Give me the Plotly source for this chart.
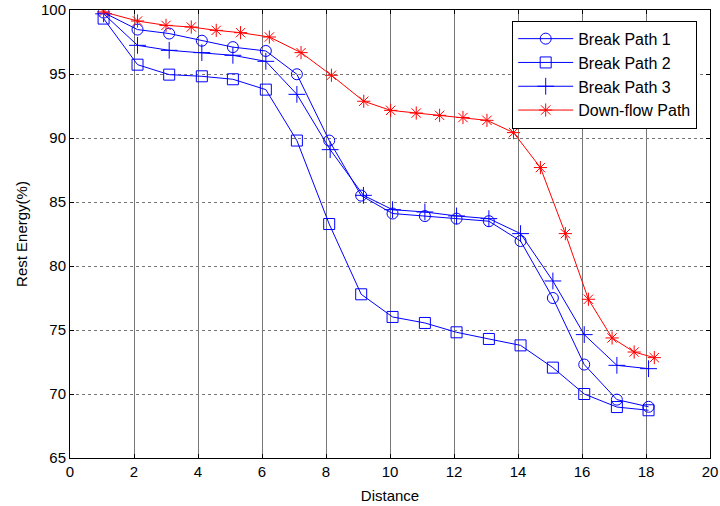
import plotly.graph_objects as go

# Break Path 1 (circles)
bp1_x = [1.05, 2.11, 3.1, 4.12, 5.09, 6.12, 7.09, 8.1, 9.1, 10.08, 11.09, 12.08, 13.09, 14.08, 15.09, 16.07, 17.09, 18.08]
bp1_y = [99.8, 98.47, 98.16, 97.6, 97.1, 96.8, 94.98, 89.8, 85.5, 84.1, 83.9, 83.7, 83.5, 81.95, 77.5, 72.3, 69.56, 69.0]

# Break Path 2 (squares)
bp2_x = [1.05, 2.11, 3.1, 4.12, 5.09, 6.12, 7.09, 8.1, 9.1, 10.08, 11.09, 12.08, 13.09, 14.08, 15.09, 16.07, 17.09, 18.08]
bp2_y = [99.33, 95.73, 94.95, 94.82, 94.59, 93.78, 89.8, 83.28, 77.79, 76.02, 75.55, 74.82, 74.3, 73.8, 72.06, 70.0, 68.98, 68.73]

# Break Path 3 (plus)
bp3_x = [1.05, 2.11, 3.1, 4.12, 5.09, 6.12, 7.09, 8.13, 9.17, 10.08, 11.09, 12.08, 13.09, 14.08, 15.09, 16.07, 17.09, 18.08]
bp3_y = [99.7, 97.24, 96.85, 96.67, 96.46, 95.99, 93.41, 89.09, 85.52, 84.4, 84.22, 83.91, 83.7, 82.53, 78.83, 74.64, 72.24, 71.98]

# Down-flow Path (asterisks)
df_x = [1.05, 2.11, 3.0, 3.79, 4.57, 5.33, 6.23, 7.22, 8.17, 9.18, 10.02, 10.82, 11.55, 12.28, 13.03, 13.86, 14.7, 15.48, 16.2, 16.94, 17.63, 18.26]
df_y = [99.85, 99.14, 98.8, 98.67, 98.41, 98.23, 97.89, 96.67, 94.9, 92.87, 92.16, 91.95, 91.77, 91.6, 91.38, 90.42, 87.69, 82.53, 77.4, 74.38, 73.28, 72.84]

x_ticks = list(range(0, 21, 2))
y_ticks = list(range(65, 101, 5))

blue = "#0000ff"
red = "#ff0000"

fig = go.Figure()
fig.add_trace(go.Scatter(x=bp1_x, y=bp1_y, mode="lines+markers", name="Break Path 1",
                         line=dict(color=blue, width=1),
                         marker=dict(symbol="circle-open", size=11, color=blue, line=dict(width=1, color=blue))))
fig.add_trace(go.Scatter(x=bp2_x, y=bp2_y, mode="lines+markers", name="Break Path 2",
                         line=dict(color=blue, width=1),
                         marker=dict(symbol="square-open", size=11, color=blue, line=dict(width=1, color=blue))))
fig.add_trace(go.Scatter(x=bp3_x, y=bp3_y, mode="lines+markers", name="Break Path 3",
                         line=dict(color=blue, width=1),
                         marker=dict(symbol="cross-thin-open", size=12, color=blue, line=dict(width=1, color=blue))))
fig.add_trace(go.Scatter(x=df_x, y=df_y, mode="lines+markers", name="Down-flow Path",
                         line=dict(color=red, width=1),
                         marker=dict(symbol="asterisk-open", size=11, color=red, line=dict(width=1, color=red))))

fig.update_layout(
    width=720, height=506,
    margin=dict(l=70, r=10, t=10, b=48, autoexpand=False),
    paper_bgcolor="white", plot_bgcolor="white",
    font=dict(family="Liberation Sans, Arial, sans-serif", size=15, color="black"),
    legend=dict(x=0.98, y=0.976, xanchor="right", yanchor="top",
                bordercolor="black", borderwidth=1, bgcolor="white",
                font=dict(size=16), itemwidth=55),
    showlegend=True,
)
fig.update_xaxes(range=[0, 20], tickvals=x_ticks, ticks="inside", ticklen=4, tickcolor="black",
                 showline=True, linecolor="black", linewidth=1, mirror="ticks",
                 showgrid=True, gridcolor="#777777", gridwidth=1, zeroline=False,
                 tickfont=dict(size=15), automargin=False,
                 title=dict(text="Distance", font=dict(size=15), standoff=11))
fig.update_yaxes(range=[65, 100], tickvals=y_ticks, ticks="inside", ticklen=4, tickcolor="black",
                 showline=True, linecolor="black", linewidth=1, mirror="ticks",
                 showgrid=True, gridcolor="#777777", gridwidth=1, griddash="dot", zeroline=False,
                 tickfont=dict(size=15), automargin=False,
                 title=dict(text="Rest Energy(%)", font=dict(size=15), standoff=9))

fig.write_html("out.html")
